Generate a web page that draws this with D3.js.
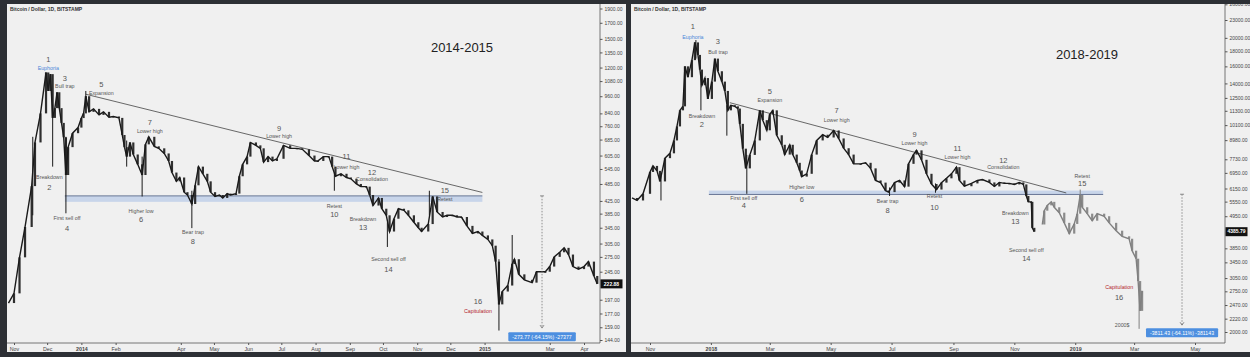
<!DOCTYPE html>
<html><head><meta charset="utf-8">
<script src="https://cdn.jsdelivr.net/npm/d3@7"></script>
<style>body{margin:0;background:#2d3035;}svg{display:block}</style>
</head><body><svg id="c" width="1250" height="357"></svg>
<script>
// ---------- DATA ----------
const leftDates = ["2013-10-27","2013-11-01","2013-11-06","2013-11-11","2013-11-17","2013-11-20","2013-11-25","2013-11-30","2013-12-02","2013-12-04","2013-12-06","2013-12-08","2013-12-10","2013-12-12","2013-12-14","2013-12-16","2013-12-18","2013-12-20","2013-12-24","2013-12-29","2014-01-01","2014-01-03","2014-01-05","2014-01-08","2014-01-12","2014-01-17","2014-01-21","2014-01-26","2014-01-30","2014-02-04","2014-02-07","2014-02-09","2014-02-11","2014-02-14","2014-02-17","2014-02-21","2014-02-25","2014-02-28","2014-03-03","2014-03-08","2014-03-12","2014-03-17","2014-03-21","2014-03-24","2014-03-28","2014-03-31","2014-04-04","2014-04-07","2014-04-11","2014-04-14","2014-04-17","2014-04-21","2014-04-25","2014-04-28","2014-05-02","2014-05-06","2014-05-09","2014-05-13","2014-05-16","2014-05-21","2014-05-24","2014-05-27","2014-05-31","2014-06-03","2014-06-08","2014-06-12","2014-06-15","2014-06-19","2014-06-23","2014-06-27","2014-07-03","2014-07-09","2014-07-15","2014-07-20","2014-07-26","2014-07-31","2014-08-03","2014-08-08","2014-08-13","2014-08-16","2014-08-19","2014-08-24","2014-08-29","2014-09-02","2014-09-07","2014-09-11","2014-09-16","2014-09-19","2014-09-22","2014-09-27","2014-09-30","2014-10-04","2014-10-07","2014-10-11","2014-10-15","2014-10-20","2014-10-24","2014-10-29","2014-11-02","2014-11-05","2014-11-11","2014-11-15","2014-11-19","2014-11-24","2014-11-28","2014-12-03","2014-12-07","2014-12-11","2014-12-16","2014-12-21","2014-12-26","2014-12-30","2015-01-04","2015-01-08","2015-01-11","2015-01-14","2015-01-17","2015-01-22","2015-01-26","2015-01-28","2015-02-01","2015-02-06","2015-02-13","2015-02-17","2015-02-25","2015-03-01","2015-03-05","2015-03-10","2015-03-14","2015-03-18","2015-03-22","2015-03-27","2015-04-01","2015-04-05","2015-04-10","2015-04-13"];
const leftClose = [192,207,274,347,477,670,840,1155,1000,1140,811,875,990,875,780,697,520,646,720,752,810,840,960,850,870,830,850,815,820,811,710,646,600,670,610,565,520,660,700,650,640,615,580,530,495,510,455,445,415,480,555,525,495,455,440,445,435,450,445,450,515,565,600,670,655,640,575,600,580,590,655,640,640,635,605,580,580,600,600,555,515,525,510,505,485,475,475,445,410,435,400,380,335,370,400,395,380,360,345,335,355,440,390,375,380,380,375,375,350,330,335,325,315,300,265,190,210,220,260,270,240,230,225,245,245,255,275,285,295,280,255,250,255,265,237,222.88];
const leftWicks = [["2013-11-18",380,700],["2013-12-06",555,900],["2013-12-18",386,700],["2014-01-05",880,1000],["2014-02-11",555,680],["2014-02-25",440,600],["2014-04-11",344,460],["2014-08-18",460,530],["2014-10-05",297,360],["2014-11-12",380,460],["2015-01-14",155,270],["2015-01-26",230,326]];

const rightDates = ["2017-10-14","2017-10-19","2017-10-25","2017-11-01","2017-11-04","2017-11-08","2017-11-11","2017-11-16","2017-11-21","2017-11-25","2017-11-28","2017-12-01","2017-12-04","2017-12-06","2017-12-09","2017-12-13","2017-12-16","2017-12-19","2017-12-21","2017-12-23","2017-12-26","2017-12-29","2018-01-02","2018-01-05","2018-01-08","2018-01-12","2018-01-15","2018-01-18","2018-01-21","2018-01-25","2018-01-28","2018-01-30","2018-02-02","2018-02-05","2018-02-09","2018-02-14","2018-02-19","2018-02-22","2018-02-26","2018-03-01","2018-03-04","2018-03-08","2018-03-13","2018-03-16","2018-03-21","2018-03-24","2018-03-28","2018-03-31","2018-04-02","2018-04-07","2018-04-12","2018-04-17","2018-04-23","2018-04-28","2018-05-04","2018-05-09","2018-05-14","2018-05-19","2018-05-24","2018-05-31","2018-06-05","2018-06-10","2018-06-15","2018-06-20","2018-06-25","2018-06-28","2018-07-04","2018-07-09","2018-07-14","2018-07-18","2018-07-23","2018-07-26","2018-07-31","2018-08-05","2018-08-10","2018-08-15","2018-08-20","2018-08-25","2018-08-30","2018-09-04","2018-09-07","2018-09-12","2018-09-19","2018-09-25","2018-09-30","2018-10-07","2018-10-12","2018-10-17","2018-10-22","2018-10-27","2018-11-01","2018-11-06","2018-11-10","2018-11-13","2018-11-15","2018-11-18","2018-11-19","2018-11-21"];
const rightClose = [5710,5600,5900,7000,7340,7060,6500,7800,8100,8960,10000,11340,11700,16000,14700,16800,19300,17500,15600,13800,14600,12400,14200,17000,15400,14200,13200,11340,11800,11700,11500,10200,8400,7200,8000,8960,11340,10500,9700,11000,11340,9330,8660,8020,8660,8020,7520,7080,6750,6900,8020,8960,9370,9170,9690,9100,8430,8020,7460,7460,7520,7200,6550,6440,6050,5980,6440,6550,6240,7460,8020,8290,7700,6900,6370,6100,6440,6660,6900,7270,6550,6260,6400,6550,6600,6450,6250,6450,6400,6400,6350,6450,6350,5800,5540,5540,4520,4385.79];
const rightWicks = [["2017-11-12",5600,6800],["2017-12-17",17000,19660],["2017-12-22",11340,15000],["2018-01-17",9300,11800],["2018-02-06",5900,8000],["2018-06-29",5800,6200],["2018-08-14",5950,6400]];

const projDates = ["2018-11-29","2018-12-01","2018-12-04","2018-12-08","2018-12-11","2018-12-16","2018-12-21","2018-12-26","2018-12-31","2019-01-03","2019-01-06","2019-01-08","2019-01-13","2019-01-18","2019-01-23","2019-01-30","2019-02-04","2019-02-11","2019-02-17","2019-02-24","2019-02-27","2019-03-03","2019-03-05","2019-03-07","2019-03-09"];
const projClose = [4640,5170,5390,5540,5310,5090,4700,4320,4660,5050,5850,5310,5050,4780,5050,4950,4700,4420,4230,4150,3780,3550,2980,2360,2760];
const projWicks = [["2019-01-06",5300,6100],["2019-03-06",2050,2900]];

const leftTicks = [1900,1700,1500,1350,1200,1080,960,840,760,685,605,545,485,425,385,345,305,275,245,197,177,159,144];
const rightTicks = [26000,23000,20000,18000,16000,14000,12500,11300,10100,8980,7730,6950,6150,5550,4950,3850,3450,3050,2750,2470,2220,2000];
const leftMonths = [["2013-11-01","Nov"],["2013-12-01","Dec"],["2014-01-01","2014"],["2014-02-01","Feb"],["2014-04-01","Apr"],["2014-05-01","May"],["2014-06-01","Jun"],["2014-07-01","Jul"],["2014-08-01","Aug"],["2014-09-01","Sep"],["2014-10-01","Oct"],["2014-11-01","Nov"],["2014-12-01","Dec"],["2015-01-01","2015"],["2015-03-01","Mar"],["2015-04-01","Apr"]];
const rightMonths = [["2017-11-01","Nov"],["2018-01-01","2018"],["2018-03-01","Mar"],["2018-05-01","May"],["2018-07-01","Jul"],["2018-09-01","Sep"],["2018-11-01","Nov"],["2019-01-01","2019"],["2019-03-01","Mar"],["2019-05-01","May"]];

// annotations: number, label, date, label value, number value
const leftNotes = [[1,"Euphoria","2013-12-02",1195,1278],[2,"Breakdown","2013-12-03",511,473],[3,"Bull trap","2013-12-17",1036,1103],[4,"First sell off","2013-12-19",372,344],[5,"Expansion","2014-01-19",982,1053],[6,"Higher low","2014-02-24",392,369],[7,"Lower high","2014-03-04",730,784],[8,"Bear trap","2014-04-12",334,311],[9,"Lower high","2014-06-29",702,747],[10,"Retest","2014-08-18",408,384],[11,"Lower high","2014-08-29",552,602],[12,"Consolidation","2014-09-21",502,530],[13,"Breakdown","2014-09-13",369,347],[14,"Second sell off","2014-10-06",270,250],[15,"Retest","2014-11-26",431,462],[16,"Capitulation","2014-12-26",180.5,195]];
const rightNotes = [[1,"Euphoria","2017-12-14",20140,21950],[2,"Breakdown","2017-12-23",10850,10190],[3,"Bull trap","2018-01-08",17910,19520],[4,"First sell off","2018-02-03",5710,5400],[5,"Expansion","2018-03-01",12290,13190],[6,"Higher low","2018-04-02",6220,5660],[7,"Lower high","2018-05-07",10520,11370],[8,"Bear trap","2018-06-27",5570,5190],[9,"Lower high","2018-07-24",8790,9360],[10,"Retest","2018-08-13",5780,5320],[11,"Lower high","2018-09-05",7880,8450],[12,"Consolidation","2018-10-21",7280,7690],[13,"Breakdown","2018-11-02",5070,4760],[14,"Second sell off","2018-11-13",3800,3570],[15,"Retest","2019-01-08",6780,6420],[16,"Capitulation","2019-02-14",2850,2630]];

const leftTrend = [["2014-01-05",975],["2014-12-30",454]];
const rightTrend = [["2018-01-20",12040],["2018-12-23",5940]];
const leftBand = {from:"2013-12-17", to:"2014-12-30", top:442, bottom:422};
const rightBand = {from:"2017-12-30", to:"2019-01-29", top:6050, bottom:5870};
const leftMeasure = {date:"2015-02-22", from:442, to:158, boxValue:147.5, text:"-273.77 (-64.15%) -27377"};
const rightMeasure = {date:"2019-04-18", from:5880, to:2110, boxValue:1987, text:"-3811.43 (-64.11%) -381143"};
const leftLast = 222.88, rightLast = 4385.79;

// ---------- DRAW ----------
const parse = d3.timeParse("%Y-%m-%d");
const svg = d3.select("#c");
svg.append("rect").attr("width",1250).attr("height",357).attr("fill","#2d3035");
const FONT = "'Liberation Sans', Arial, sans-serif";

function panel(o){
  const g = svg.append("g");
  const cid = "clip"+o.id, pid = "pclip"+o.id;
  const defs = svg.append("defs");
  defs.append("clipPath").attr("id",cid).append("rect")
    .attr("x",o.left).attr("y",o.top).attr("width",o.axisX-o.left).attr("height",o.bottom-o.top);
  defs.append("clipPath").attr("id",pid).append("rect")
    .attr("x",o.left).attr("y",o.top).attr("width",o.right-o.left).attr("height",o.panelBottom-o.top);
  g.append("rect").attr("x",o.left).attr("y",o.top).attr("width",o.right-o.left)
    .attr("height",o.panelBottom-o.top).attr("fill","#f0f0f0");
  const x=o.x, y=o.y;
  const plot = g.append("g").attr("clip-path",`url(#${cid})`);

  const b=o.band;
  plot.append("rect").attr("x",x(parse(b.from))).attr("width",x(parse(b.to))-x(parse(b.from)))
    .attr("y",y(b.top)).attr("height",y(b.bottom)-y(b.top)).attr("fill","#c8d5ea");
  plot.append("line").attr("x1",x(parse(b.from))).attr("x2",x(parse(b.to)))
    .attr("y1",y(o.bandLineAt==="top"?b.top:b.bottom)).attr("y2",y(o.bandLineAt==="top"?b.top:b.bottom))
    .attr("stroke","#5b6b8c").attr("stroke-width",0.9);
  plot.append("line").attr("x1",x(parse(o.trend[0][0]))).attr("y1",y(o.trend[0][1]))
    .attr("x2",x(parse(o.trend[1][0]))).attr("y2",y(o.trend[1][1])).attr("stroke","#444").attr("stroke-width",0.8);

  function series(dates, vals, wicks, color){
    const pts = d3.zip(dates.map(parse), vals);
    plot.append("g").selectAll("line").data(wicks).join("line")
      .attr("x1",d=>x(parse(d[0]))).attr("x2",d=>x(parse(d[0])))
      .attr("y1",d=>y(d[1])).attr("y2",d=>y(d[2])).attr("stroke",color).attr("stroke-width",1);
    plot.append("g").selectAll("rect").data(pts.slice(1).map((p,i)=>[pts[i],p])).join("rect")
      .attr("x",d=>x(d[1][0])-1.1).attr("width",2.2)
      .attr("y",d=>y(Math.max(d[0][1],d[1][1]))).attr("height",d=>Math.max(1,Math.abs(y(d[0][1])-y(d[1][1]))))
      .attr("fill",color).attr("opacity",0.9);
    plot.append("path").datum(pts).attr("fill","none").attr("stroke",color).attr("stroke-width",1.4)
      .attr("d",d3.line().x(d=>x(d[0])).y(d=>y(d[1])));
  }
  o.series.forEach(s=>series(s.dates,s.vals,s.wicks,s.color));

  const notes = plot.append("g").attr("font-family",FONT).attr("text-anchor","middle");
  o.notes.forEach(n=>{
    const cx = x(parse(n[2]));
    notes.append("text").attr("x",cx).attr("y",y(n[4])).attr("dy","0.35em").attr("font-size",7.5)
      .attr("fill","#555").text(n[0]);
    notes.append("text").attr("x",cx).attr("y",y(n[3])).attr("dy","0.35em").attr("font-size",5.3)
      .attr("fill", n[1]==="Euphoria"?"#4a86d8":(n[1]==="Capitulation"?"#b3262b":"#555")).text(n[1]);
  });
  if(o.extra) notes.append("text").attr("x",x(parse(o.extra[0]))).attr("y",y(o.extra[1])).attr("dy","0.35em")
      .attr("font-size",5.3).attr("fill","#555").text(o.extra[2]);

  const m=o.measure, mx=x(parse(m.date));
  plot.append("line").attr("x1",mx).attr("x2",mx).attr("y1",y(m.from)).attr("y2",y(m.to))
    .attr("stroke","#666").attr("stroke-width",0.7).attr("stroke-dasharray","1.5,1.5");
  plot.append("line").attr("x1",mx-2).attr("x2",mx+2).attr("y1",y(m.from)).attr("y2",y(m.from)).attr("stroke","#666").attr("stroke-width",0.7);
  plot.append("path").attr("d",`M${mx-2},${y(m.to)-3}L${mx},${y(m.to)}L${mx+2},${y(m.to)-3}`).attr("fill","none").attr("stroke","#666").attr("stroke-width",0.7);
  const tb = g.append("g").attr("clip-path",`url(#${pid})`);
  const mt = tb.append("text").attr("x",mx).attr("y",y(m.boxValue)).attr("dy","0.35em").attr("text-anchor","middle")
    .attr("font-family",FONT).attr("font-size",5.2).attr("fill","#fff").text(m.text);
  const bb = mt.node().getBBox();
  tb.insert("rect","text").attr("x",bb.x-4).attr("y",bb.y-1.5).attr("width",bb.width+8).attr("height",bb.height+3)
    .attr("fill","#4d8fe0").attr("rx",1);

  g.append("text").attr("x",o.titleX).attr("y",o.titleY).attr("font-family",FONT).attr("font-size",13)
    .attr("fill","#222").attr("text-anchor","middle").text(o.title);
  g.append("text").attr("x",o.left+3).attr("y",o.top+7).attr("font-family",FONT).attr("font-size",5)
    .attr("font-weight","bold").attr("fill","#333").text("Bitcoin / Dollar, 1D, BITSTAMP");

  const ax = g.append("g").attr("clip-path",`url(#${pid})`);
  ax.append("line").attr("x1",o.axisX).attr("x2",o.axisX).attr("y1",o.top).attr("y2",o.bottom).attr("stroke","#555").attr("stroke-width",0.8);
  ax.append("line").attr("x1",o.left).attr("x2",o.axisX).attr("y1",o.bottom).attr("y2",o.bottom).attr("stroke","#555").attr("stroke-width",0.8);
  const ya = ax.append("g").attr("transform",`translate(${o.axisX},0)`)
    .call(d3.axisRight(y).tickValues(o.ticks).tickFormat(d3.format(".2f")).tickSize(2.5).tickPadding(2));
  ya.select(".domain").remove();
  ya.selectAll("text").attr("font-family",FONT).attr("font-size",5).attr("fill","#444");
  ya.selectAll("line").attr("stroke","#555");
  const xa = ax.append("g").attr("transform",`translate(0,${o.bottom})`)
    .call(d3.axisBottom(x).tickValues(o.months.map(d=>parse(d[0]))).tickFormat((d,i)=>o.months[i][1]).tickSize(2).tickPadding(2));
  xa.select(".domain").remove();
  xa.selectAll("text").attr("font-family",FONT).attr("font-size",5.3).attr("fill","#444")
    .attr("font-weight",(d,i)=>/^\d{4}$/.test(o.months[i][1])?"bold":"normal");
  xa.selectAll("line").attr("stroke","#555");

  const ly=y(o.last);
  ax.append("rect").attr("x",o.axisX+0.5).attr("y",ly-4.5).attr("width",22).attr("height",9).attr("fill","#111");
  ax.append("text").attr("x",o.axisX+11.5).attr("y",ly).attr("dy","0.35em").attr("text-anchor","middle")
    .attr("font-family",FONT).attr("font-size",5).attr("font-weight","bold").attr("fill","#fff").text(d3.format(".2f")(o.last));
}

panel({id:"L", left:7, right:626, top:4, bottom:343, panelBottom:352, axisX:600,
  x:d3.scaleTime().domain([parse("2013-11-01"),parse("2015-04-01")]).range([14,584]),
  y:d3.scaleLog().domain([1900,144]).range([8.5,340]),
  series:[{dates:leftDates,vals:leftClose,wicks:leftWicks,color:"#1a1a1a"}],
  band:leftBand, bandLineAt:"top", trend:leftTrend, notes:leftNotes, measure:leftMeasure,
  ticks:leftTicks, months:leftMonths, last:leftLast, title:"2014-2015", titleX:462, titleY:52});

panel({id:"R", left:631, right:1250, top:4, bottom:343, panelBottom:352, axisX:1225,
  x:d3.scaleTime().domain([parse("2017-11-01"),parse("2019-05-01")]).range([650,1195]),
  y:d3.scaleLog().domain([23000,2000]).range([20,332]),
  series:[{dates:rightDates,vals:rightClose,wicks:rightWicks,color:"#1a1a1a"},{dates:projDates,vals:projClose,wicks:projWicks,color:"#808080"}],
  band:rightBand, bandLineAt:"bottom", trend:rightTrend, notes:rightNotes, measure:rightMeasure, extra:["2019-02-17",2110,"2000$"],
  ticks:rightTicks, months:rightMonths, last:rightLast, title:"2018-2019", titleX:1087, titleY:59});
</script></body></html>
